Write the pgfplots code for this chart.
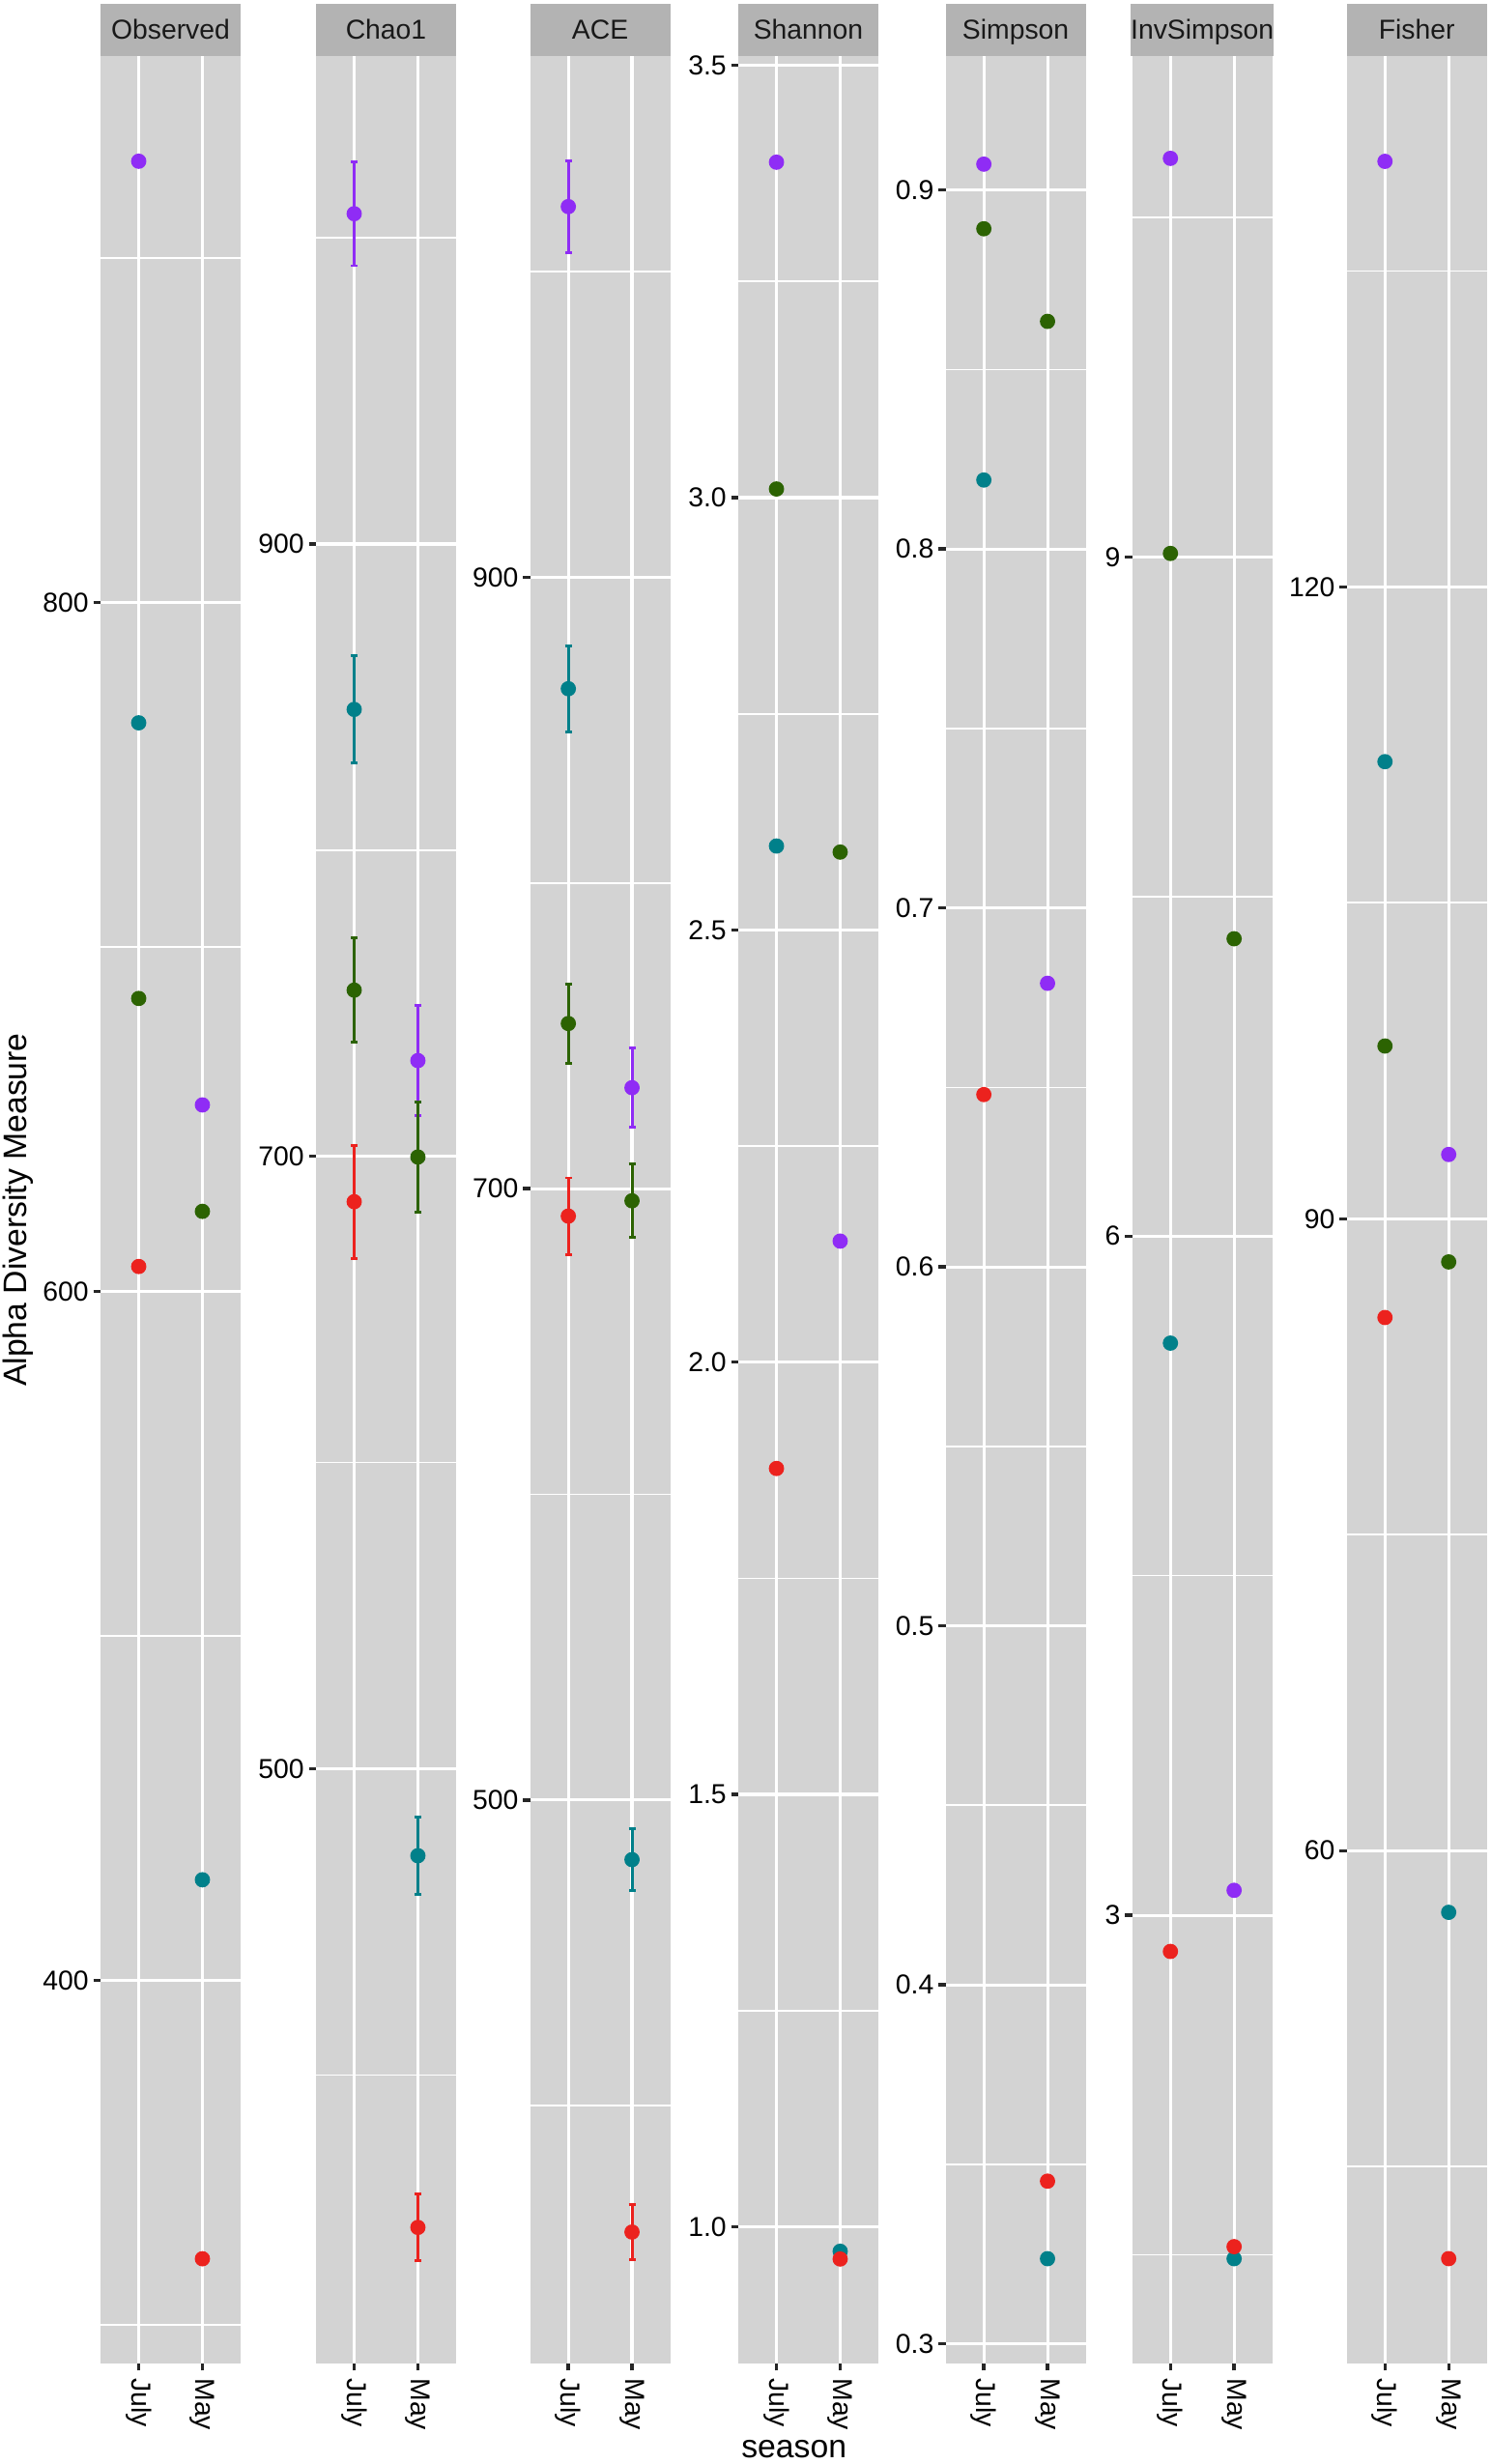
\documentclass[border=0pt]{standalone}
\usepackage{fontspec}
\setmainfont{Liberation Sans}
\usepackage{pgfplots}
\pgfplotsset{compat=1.18}

\definecolor{panelgray}{RGB}{211,211,211}
\definecolor{stripgray}{RGB}{179,179,179}
\definecolor{cPur}{RGB}{143,44,245}
\definecolor{cGrn}{RGB}{44,99,2}
\definecolor{cTeal}{RGB}{0,128,138}
\definecolor{cRed}{RGB}{236,34,30}

\pgfplotsset{
  every axis title shift=0pt,
  facet/.style={
    anchor=south west, scale only axis,
    width=34.8pt, height=573pt,
    xmin=0.4, xmax=2.6, xtick={1,2}, xticklabels={July,May},
    axis background/.style={fill=panelgray},
    axis line style={draw=none},
    xmajorgrids, ymajorgrids, yminorgrids,
    major grid style={white, line width=0.75pt},
    minor grid style={white, line width=0.4pt},
    tick pos=left, tick align=outside,
    major tick length=1.75pt, minor tick length=0pt,
    major tick style={black!85, line width=0.8pt},
    /pgf/number format/assume math mode=true,
    ticklabel style={font=\fontsize{6.8}{7}\selectfont, inner sep=0pt, text=black},
    yticklabel shift=1pt,
    xticklabel shift=1.8pt,
    xticklabel style={rotate=-90, anchor=west},
    title style={at={(0.5,1)}, anchor=south, fill=stripgray, yshift=0pt,
      minimum width=34.8pt, minimum height=12.96pt, inner sep=0pt,
      text height=4.8pt, text depth=0pt,
      font=\fontsize{6.8}{7}\selectfont, text=black!90},
  },
  pur/.style={only marks, mark=*, mark size=1.7pt, color=cPur},
  grn/.style={only marks, mark=*, mark size=1.7pt, color=cGrn},
  tea/.style={only marks, mark=*, mark size=1.7pt, color=cTeal},
  red/.style={only marks, mark=*, mark size=1.7pt, color=cRed},
  eb/.style={
    error bars/y dir=both, error bars/y explicit,
    error bars/error bar style={line width=0.7pt},
    error bars/error mark options={rotate=90, mark size=0.85pt, line width=0.7pt},
  },
}

\begin{document}
\begin{tikzpicture}
\useasboundingbox (0,0) rectangle (370.3pt,612pt);

% Observed
\begin{axis}[facet, at={(24.96pt,24.96pt)}, title={Observed},
  ymin=288.8, ymax=958.4, ytick={400,600,800}, minor ytick={300,500,700,900}]
\addplot[pur] coordinates {(1,928) (2,654.1)};
\addplot[grn] coordinates {(1,685) (2,623.2)};
\addplot[tea] coordinates {(1,765) (2,429.2)};
\addplot[red] coordinates {(1,607.2) (2,319.2)};
\end{axis}

% Chao1
\begin{axis}[facet, at={(78.48pt,24.96pt)}, title={Chao1},
  ymin=305.75, ymax=1059.25, ytick={500,700,900}, minor ytick={400,600,800,1000}]
\addplot[pur, eb] coordinates {(1,1007.9) +- (0,17) (2,731.3) +- (0,18)};
\addplot[grn, eb] coordinates {(1,754.3) +- (0,17) (2,699.8) +- (0,18)};
\addplot[tea, eb] coordinates {(1,846) +- (0,17.5) (2,471.6) +- (0,12.5)};
\addplot[red, eb] coordinates {(1,685.2) +- (0,18.5) (2,350.2) +- (0,10.8)};
\end{axis}

% ACE
\begin{axis}[facet, at={(131.66pt,24.96pt)}, title={ACE},
  ymin=315.7, ymax=1070.3, ytick={500,700,900}, minor ytick={400,600,800,1000}]
\addplot[pur, eb] coordinates {(1,1021.2) +- (0,15) (2,733) +- (0,13)};
\addplot[grn, eb] coordinates {(1,754) +- (0,13) (2,696) +- (0,12)};
\addplot[tea, eb] coordinates {(1,863.5) +- (0,14) (2,480.5) +- (0,10)};
\addplot[red, eb] coordinates {(1,691) +- (0,12.5) (2,358.7) +- (0,9)};
\end{axis}

% Shannon
\begin{axis}[facet, at={(183.36pt,24.96pt)}, title={Shannon},
  ymin=0.8417, ymax=3.5103, ytick={1,1.5,2,2.5,3,3.5},
  yticklabels={1.0,1.5,2.0,2.5,3.0,3.5},
  minor ytick={1.25,1.75,2.25,2.75,3.25}]
\addplot[pur] coordinates {(1,3.388) (2,2.140)};
\addplot[grn] coordinates {(1,3.010) (2,2.590)};
\addplot[tea] coordinates {(1,2.597) (2,0.9715)};
\addplot[red] coordinates {(1,1.877) (2,0.9626)};
\end{axis}

% Simpson
\begin{axis}[facet, at={(234.86pt,24.96pt)}, title={Simpson},
  ymin=0.2945, ymax=0.9372, ytick={0.3,0.4,0.5,0.6,0.7,0.8,0.9},
  yticklabels={0.3,0.4,0.5,0.6,0.7,0.8,0.9},
  minor ytick={0.35,0.45,0.55,0.65,0.75,0.85}]
\addplot[pur] coordinates {(1,0.9072) (2,0.679)};
\addplot[grn] coordinates {(1,0.8892) (2,0.8634)};
\addplot[tea] coordinates {(1,0.8192) (2,0.3237)};
\addplot[red] coordinates {(1,0.648) (2,0.3453)};
\end{axis}

% InvSimpson
\begin{axis}[facet, at={(281.2pt,24.96pt)}, title={InvSimpson},
  ymin=1.02, ymax=11.21, ytick={3,6,9}, minor ytick={1.5,4.5,7.5,10.5}]
\addplot[pur] coordinates {(1,10.76) (2,3.11)};
\addplot[grn] coordinates {(1,9.015) (2,7.313)};
\addplot[tea] coordinates {(1,5.527) (2,1.483)};
\addplot[red] coordinates {(1,2.84) (2,1.536)};
\end{axis}

% Fisher
\begin{axis}[facet, at={(334.49pt,24.96pt)}, title={Fisher},
  ymin=35.65, ymax=145.18, ytick={60,90,120}, minor ytick={45,75,105,135}]
\addplot[pur] coordinates {(1,140.2) (2,93.05)};
\addplot[grn] coordinates {(1,98.2) (2,87.95)};
\addplot[tea] coordinates {(1,111.7) (2,57.07)};
\addplot[red] coordinates {(1,85.31) (2,40.63)};
\end{axis}

\node[rotate=90, font=\fontsize{8.1}{9}\selectfont] at (4.6pt,311.5pt) {Alpha Diversity Measure};
\node[font=\fontsize{8.1}{9}\selectfont, anchor=base] at (197.2pt,1.6pt) {season};
\end{tikzpicture}
\end{document}
